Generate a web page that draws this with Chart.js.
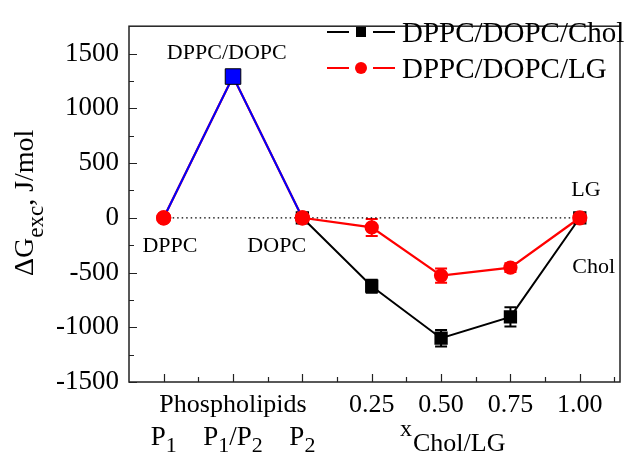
<!DOCTYPE html>
<html>
<head>
<meta charset="utf-8">
<script src="https://cdn.jsdelivr.net/npm/chart.js@4.4.0/dist/chart.umd.min.js"></script>
<style>
    html, body { margin: 0; padding: 0; background: #fff; }
    #wrap { width: 630px; height: 453px; }
</style>
</head>
<body>
<div id="wrap"><canvas id="gibbsChart" width="630" height="453"></canvas></div>
<script>
/* ================= DATA ================= */
const xPositions = [0, 1, 2, 3, 4, 5, 6];
const topTickLabels = ['', 'Phospholipids', '', '0.25', '0.50', '0.75', '1.00'];
const bottomTickLabels = ['P_1', 'P_1/P_2', 'P_2'];

// DPPC -> DPPC/DOPC -> DOPC
const pureValues = [0, 1290, 0];
const cholValues = [null, null, 0, -625, -1100, -905, 0];
const cholErrors = [0, 0, 0, 60, 75, 88, 0];
const lgValues = [0, 1290, 0, -88, -528, -455, 0];
const lgErrors = [0, 0, 0, 78, 65, 40, 0];
const zeroValues = [0, 0, 0, 0, 0, 0, 0];

const yTicks = [-1500, -1000, -500, 0, 500, 1000, 1500];
const legendNames = ['DPPC/DOPC/Chol', 'DPPC/DOPC/LG'];

// text notes placed in data coordinates (x index, y J/mol)
const notes = [
    { x: 0.91, y: 1500, text: 'DPPC/DOPC' },
    { x: 0.09, y: -260, text: 'DPPC' },
    { x: 1.63, y: -260, text: 'DOPC' },
    { x: 6.09, y: 255, text: 'LG' },
    { x: 6.2, y: -450, text: 'Chol' }
];

const SERIF = '"Liberation Serif", serif';
Chart.defaults.font.family = SERIF;
Chart.defaults.color = '#000';

function toPoints(values) {
    return values.map((v, i) => ({ x: xPositions[i], y: v }));
}

/* ================= RICH TEXT (subscripts) ================= */
function splitSub(text) {
    const parts = [];
    const re = /_(\w)/g;
    let last = 0, m;
    while ((m = re.exec(text)) !== null) {
        if (m.index > last) parts.push({ t: text.slice(last, m.index), sub: false });
        parts.push({ t: m[1], sub: true });
        last = re.lastIndex;
    }
    if (last < text.length) parts.push({ t: text.slice(last), sub: false });
    return parts;
}

function drawRich(ctx, parts, x, y, size, subSize, subShift, align) {
    let total = 0;
    parts.forEach(p => {
        ctx.font = `${p.sub ? subSize : size}px ${SERIF}`;
        p.w = ctx.measureText(p.t).width;
        total += p.w;
    });
    let cx = align === 'left' ? x : x - total / 2;
    ctx.textAlign = 'left';
    ctx.textBaseline = 'alphabetic';
    parts.forEach(p => {
        ctx.font = `${p.sub ? subSize : size}px ${SERIF}`;
        ctx.fillText(p.t, cx, y + (p.sub ? subShift : 0));
        cx += p.w;
    });
}

/* ================= ERROR BARS ================= */
function drawErrors(chart, values, errors, color) {
    const { ctx, scales: { x, y } } = chart;
    ctx.save();
    ctx.strokeStyle = color;
    ctx.lineWidth = 2;
    values.forEach((v, i) => {
        if (v === null || !errors[i]) return;
        const px = x.getPixelForValue(xPositions[i]);
        const top = y.getPixelForValue(v + errors[i]);
        const bot = y.getPixelForValue(v - errors[i]);
        ctx.beginPath();
        ctx.moveTo(px, top); ctx.lineTo(px, bot);
        ctx.moveTo(px - 6, top); ctx.lineTo(px + 6, top);
        ctx.moveTo(px - 6, bot); ctx.lineTo(px + 6, bot);
        ctx.stroke();
    });
    ctx.restore();
}

/* ================= DECOR PLUGIN ================= */
const decorPlugin = {
    id: 'decor',
    beforeDatasetsDraw(chart) {
        drawErrors(chart, cholValues, cholErrors, '#000');
        drawErrors(chart, lgValues, lgErrors, '#ff0000');
    },
    afterDatasetsDraw(chart) {
        // red end markers sit on top of the blue segment
        const meta = chart.getDatasetMeta(2);
        [0, 2].forEach(i => meta.data[i].draw(chart.ctx, chart.chartArea));
    },
    afterDraw(chart) {
        const { ctx, chartArea: a, scales: { x, y } } = chart;
        ctx.save();

        // frame
        ctx.strokeStyle = '#222';
        ctx.lineWidth = 1.5;
        ctx.strokeRect(a.left, a.top, a.right - a.left, a.bottom - a.top);

        // inward ticks
        ctx.lineWidth = 1.2;
        ctx.beginPath();
        for (let v = -1500; v <= 1500; v += 250) {
            const py = Math.round(y.getPixelForValue(v)) + 0.5;
            const len = v % 500 === 0 ? 8 : 5;
            ctx.moveTo(a.left, py); ctx.lineTo(a.left + len, py);
        }
        for (let s = 0; s <= 6.5; s += 0.5) {
            const px = Math.round(x.getPixelForValue(s)) + 0.5;
            const len = s % 1 === 0 ? 8 : 5;
            ctx.moveTo(px, a.bottom); ctx.lineTo(px, a.bottom - len);
        }
        ctx.stroke();

        ctx.fillStyle = '#000';

        // x tick labels, first row
        ctx.font = `26px ${SERIF}`;
        ctx.textAlign = 'center';
        ctx.textBaseline = 'alphabetic';
        topTickLabels.forEach((t, i) => {
            if (t) ctx.fillText(t, x.getPixelForValue(xPositions[i]), 412);
        });

        // x tick labels, second row
        bottomTickLabels.forEach((t, i) => {
            drawRich(ctx, splitSub(t), x.getPixelForValue(xPositions[i]), 445, 27, 22, 7, 'center');
        });

        // x title: x_Chol/LG
        ctx.textAlign = 'left';
        ctx.font = `24px ${SERIF}`;
        ctx.fillText('x', 400, 436);
        ctx.font = `26px ${SERIF}`;
        ctx.fillText('Chol/LG', 413, 451);

        // y title
        ctx.save();
        ctx.translate(33, 276);
        ctx.rotate(-Math.PI / 2);
        drawRich(ctx, [
            { t: '\u0394G', sub: false },
            { t: 'exc', sub: true },
            { t: ', J/mol', sub: false }
        ], 0, 0, 28, 23, 10, 'left');
        ctx.restore();

        // notes
        ctx.font = `22px ${SERIF}`;
        ctx.textAlign = 'center';
        ctx.textBaseline = 'middle';
        notes.forEach(n => {
            ctx.fillText(n.text, x.getPixelForValue(n.x), y.getPixelForValue(n.y));
        });

        // legend
        const rows = [
            { name: legendNames[0], color: '#000', style: 'rect', cy: 32, base: 42 },
            { name: legendNames[1], color: '#ff0000', style: 'circle', cy: 68, base: 78 }
        ];
        rows.forEach(r => {
            ctx.strokeStyle = r.color;
            ctx.fillStyle = r.color;
            ctx.lineWidth = 2;
            ctx.beginPath();
            ctx.moveTo(327, r.cy); ctx.lineTo(395, r.cy);
            ctx.stroke();
            ctx.fillStyle = '#fff';
            ctx.fillRect(349, r.cy - 3, 24, 6);
            ctx.fillStyle = r.color;
            if (r.style === 'rect') {
                ctx.fillRect(356, r.cy - 5, 10, 10);
            } else {
                ctx.beginPath();
                ctx.arc(361, r.cy, 6, 0, Math.PI * 2);
                ctx.fill();
            }
            ctx.fillStyle = '#000';
            ctx.font = `29px ${SERIF}`;
            ctx.textAlign = 'left';
            ctx.textBaseline = 'alphabetic';
            ctx.fillText(r.name, 402, r.base);
        });

        ctx.restore();
    }
};

/* ================= CHART ================= */
new Chart(document.getElementById('gibbsChart'), {
    type: 'line',
    data: {
        datasets: [
            {
                label: 'zero',
                order: 4,
                data: toPoints(zeroValues),
                borderColor: '#000',
                borderWidth: 1.3,
                borderDash: [1.5, 3],
                pointRadius: 0
            },
            {
                label: legendNames[0],
                order: 3,
                data: toPoints(cholValues),
                borderColor: '#000',
                backgroundColor: '#000',
                borderWidth: 2,
                pointStyle: 'rect',
                pointRadius: 8,
                spanGaps: false
            },
            {
                label: legendNames[1],
                order: 2,
                data: toPoints(lgValues),
                borderColor: '#ff0000',
                backgroundColor: '#ff0000',
                borderWidth: 2.3,
                pointStyle: 'circle',
                pointRadius: [6.5, 0, 6.5, 6, 6, 6, 6.5]
            },
            {
                label: 'pure',
                order: 1,
                data: toPoints(pureValues),
                borderColor: '#0000ff',
                backgroundColor: '#0000ff',
                borderWidth: 2,
                pointStyle: 'rect',
                pointRadius: [0, 11, 0],
                pointBorderColor: '#000',
                pointBorderWidth: 1
            }
        ]
    },
    options: {
        responsive: false,
        animation: false,
        layout: { padding: { top: 13, right: 2, left: 0, bottom: 0 } },
        plugins: {
            legend: { display: false },
            tooltip: { enabled: false }
        },
        scales: {
            x: {
                type: 'linear',
                min: -0.5,
                max: 6.58,
                grid: { display: false, drawTicks: false },
                border: { display: false },
                ticks: { display: false },
                afterFit(scale) { scale.height = 71; }
            },
            y: {
                min: -1500,
                max: 1750,
                grid: { display: false, drawTicks: false },
                border: { display: false },
                ticks: {
                    autoSkip: false,
                    padding: 10,
                    color: '#000',
                    font: { family: SERIF, size: 27 },
                    callback: v => String(v)
                },
                afterBuildTicks(scale) {
                    scale.ticks = yTicks.map(v => ({ value: v }));
                },
                afterFit(scale) { scale.width = 129; }
            }
        }
    },
    plugins: [decorPlugin]
});
</script>
</body>
</html>
